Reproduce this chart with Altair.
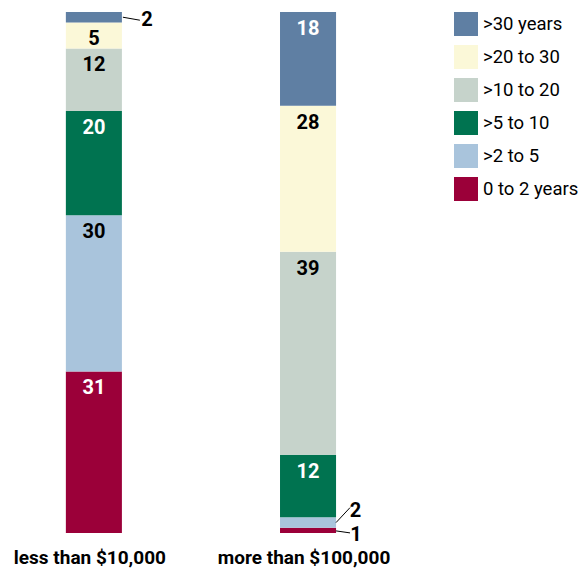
import altair as alt
import pandas as pd

categories = ["less than $10,000", "more than $100,000"]
groups = ["0 to 2 years", ">2 to 5", ">5 to 10", ">10 to 20", ">20 to 30", ">30 years"]
colors = ["#9b0039", "#a9c4dc", "#007350", "#c6d3cb", "#fbf8d8", "#5f7fa3"]
values_low = [31, 30, 20, 12, 5, 2]
values_high = [1, 2, 12, 39, 28, 18]
dark_groups = ["0 to 2 years", ">5 to 10", ">30 years"]

rows = []
for cat, vals in zip(categories, [values_low, values_high]):
    for i, (g, v) in enumerate(zip(groups, vals)):
        rows.append({"cat": cat, "group": g, "value": v, "order": i})
df = pd.DataFrame(rows)

FONT = "Roboto"

base = alt.Chart(df).transform_stack(
    stack="value", groupby=["cat"], as_=["y0", "y1"], sort=[alt.SortField("order")]
).transform_calculate(mid="(datum.y0 + datum.y1) / 2")

xscale = alt.Scale(domain=categories, paddingInner=0.7383, paddingOuter=0.7, align=0.193)
x = alt.X("cat:N", scale=xscale,
          axis=alt.Axis(title=None, domain=False, ticks=False, labelFont=FONT,
                        labelFontWeight="bold", labelFontSize=19, labelColor="black",
                        labelPadding=15, labelAngle=0, labelOffset=-4))
yscale = alt.Scale(domain=[0, 100], nice=False)

bars = base.mark_bar(strokeWidth=0).encode(
    x=x,
    y=alt.Y("y1:Q", scale=yscale, axis=None),
    y2="y0:Q",
    color=alt.Color("group:N",
                    scale=alt.Scale(domain=groups[::-1], range=colors[::-1]),
                    legend=alt.Legend(title=None, orient="none", legendX=446, legendY=0,
                                      symbolType="square", symbolSize=576,
                                      symbolStrokeWidth=0, labelFont=FONT,
                                      labelFontSize=18.5, labelColor="black",
                                      rowPadding=9, labelOffset=5, padding=0)),
)

labels = base.transform_filter("datum.value >= 5").mark_text(
    dy=17, font=FONT, fontWeight="bold", fontSize=20, baseline="middle"
).encode(
    x=x,
    y=alt.Y("y1:Q", scale=yscale, axis=None),
    text="value:Q",
    color=alt.condition(alt.FieldOneOfPredicate(field="group", oneOf=dark_groups),
                        alt.value("white"), alt.value("black")),
)

callouts = [
    # cat, group, line (x0, x1, y0, y1 offsets), text (dx, dy)
    (categories[0], ">30 years", (29, 46, 0, 3), (53, 3)),
    (categories[1], ">2 to 5", (28, 42, 0, -15), (47.5, -11.5)),
    (categories[1], "0 to 2 years", (28, 42, 0.5, 2.5), (48, 5)),
]

layers = [bars, labels]
for cat, grp, (lx0, lx1, ly0, ly1), (tdx, tdy) in callouts:
    sub = base.transform_filter((alt.datum.cat == cat) & (alt.datum.group == grp))
    layers.append(sub.mark_rule(color="black", strokeWidth=1, xOffset=lx0, x2Offset=lx1,
                                yOffset=ly0, y2Offset=ly1).encode(
        x=x, x2="cat:N",
        y=alt.Y("mid:Q", scale=yscale, axis=None), y2="mid:Q"))
    layers.append(sub.mark_text(dx=tdx, dy=tdy, font=FONT, fontWeight="bold", fontSize=20,
                                baseline="middle", color="black").encode(
        x=x, y=alt.Y("mid:Q", scale=yscale, axis=None), text="value:Q"))

chart = alt.layer(*layers).properties(
    width=570, height=521,
    autosize=alt.AutoSizeParams(type="none"),
    padding={"left": 0, "top": 4, "right": 0, "bottom": 38},
).configure_view(stroke=None)

chart.save("out.html", embed_options={"renderer": "svg", "actions": False})
